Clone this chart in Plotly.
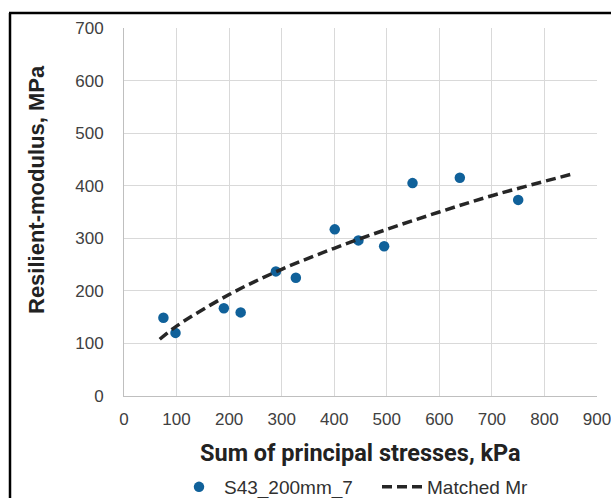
import plotly.graph_objects as go

stress_kpa = [75, 98, 190, 222, 289, 327, 401, 446, 495, 549, 639, 750]
mr_mpa = [149, 120, 167, 159, 237, 225, 317, 296, 285, 405, 415, 373]

# Matched Mr curve
fit_stress = [68, 100, 200, 300, 400, 500, 600, 700, 852]
fit_mr = [108, 133, 193, 241, 281, 317, 350, 381, 422]

x_ticks = [0, 100, 200, 300, 400, 500, 600, 700, 800, 900]
y_ticks = [0, 100, 200, 300, 400, 500, 600, 700]

W, H = 611, 498
L, R, T, B = 124, 14, 28, 102
pw, ph = W - L - R, H - T - B

def px(x):
    return (x - L) / pw

def py(y):
    return (H - B - y) / ph

fig = go.Figure()
fig.add_trace(go.Scatter(
    x=stress_kpa, y=mr_mpa, mode="markers", name="S43_200mm_7",
    marker=dict(color="#10619a", size=10.5, line=dict(width=0)),
))
fig.add_trace(go.Scatter(
    x=fit_stress, y=fit_mr, mode="lines", name="Matched Mr",
    line=dict(color="#262626", width=3.5, dash="10px,5px", shape="spline"),
))

axis_common = dict(
    showgrid=True, gridcolor="#d9d9d9", gridwidth=1,
    showline=True, linecolor="#bfbfbf", linewidth=1,
    zeroline=False, ticks="",
    tickfont=dict(family="Liberation Sans, Arial", size=17, color="#404040"),
)

fig.update_layout(
    width=W, height=H,
    margin=dict(l=L, r=R, t=T, b=B, pad=0, autoexpand=False),
    paper_bgcolor="white", plot_bgcolor="white",
    xaxis=dict(range=[0, 900], tickvals=x_ticks, ticklabelstandoff=8,
               ticklabeloverflow="allow", **axis_common),
    yaxis=dict(range=[0, 700], tickvals=y_ticks, ticklabelstandoff=16, **axis_common),
    showlegend=True,
    legend=dict(orientation="h", x=px(174), xanchor="left", y=py(487), yanchor="middle",
                font=dict(family="Liberation Sans, Arial", size=19, color="#303030"),
                entrywidth=148, entrywidthmode="pixels",
                itemwidth=40, tracegroupgap=0, bgcolor="rgba(0,0,0,0)"),
    annotations=[
        dict(text="<b>Sum of principal stresses, kPa</b>", xref="paper", yref="paper",
             x=0.5, y=py(453), xanchor="center", yanchor="middle", showarrow=False,
             font=dict(family="Roboto", size=23.5, color="#222222")),
        dict(text="<b>Resilient-modulus, MPa</b>", xref="paper", yref="paper",
             x=px(37), y=py(190), xanchor="center", yanchor="middle", showarrow=False,
             textangle=-90,
             font=dict(family="Liberation Sans, Arial", size=22, color="#222222")),
    ],
    shapes=[
        dict(type="line", xref="paper", yref="paper", x0=px(10), x1=px(10),
             y0=py(13), y1=py(520), line=dict(color="black", width=2.5)),
        dict(type="line", xref="paper", yref="paper", x0=px(9), x1=px(640),
             y0=py(13), y1=py(13), line=dict(color="black", width=2.5)),
    ],
)

fig.write_html("out.html")
